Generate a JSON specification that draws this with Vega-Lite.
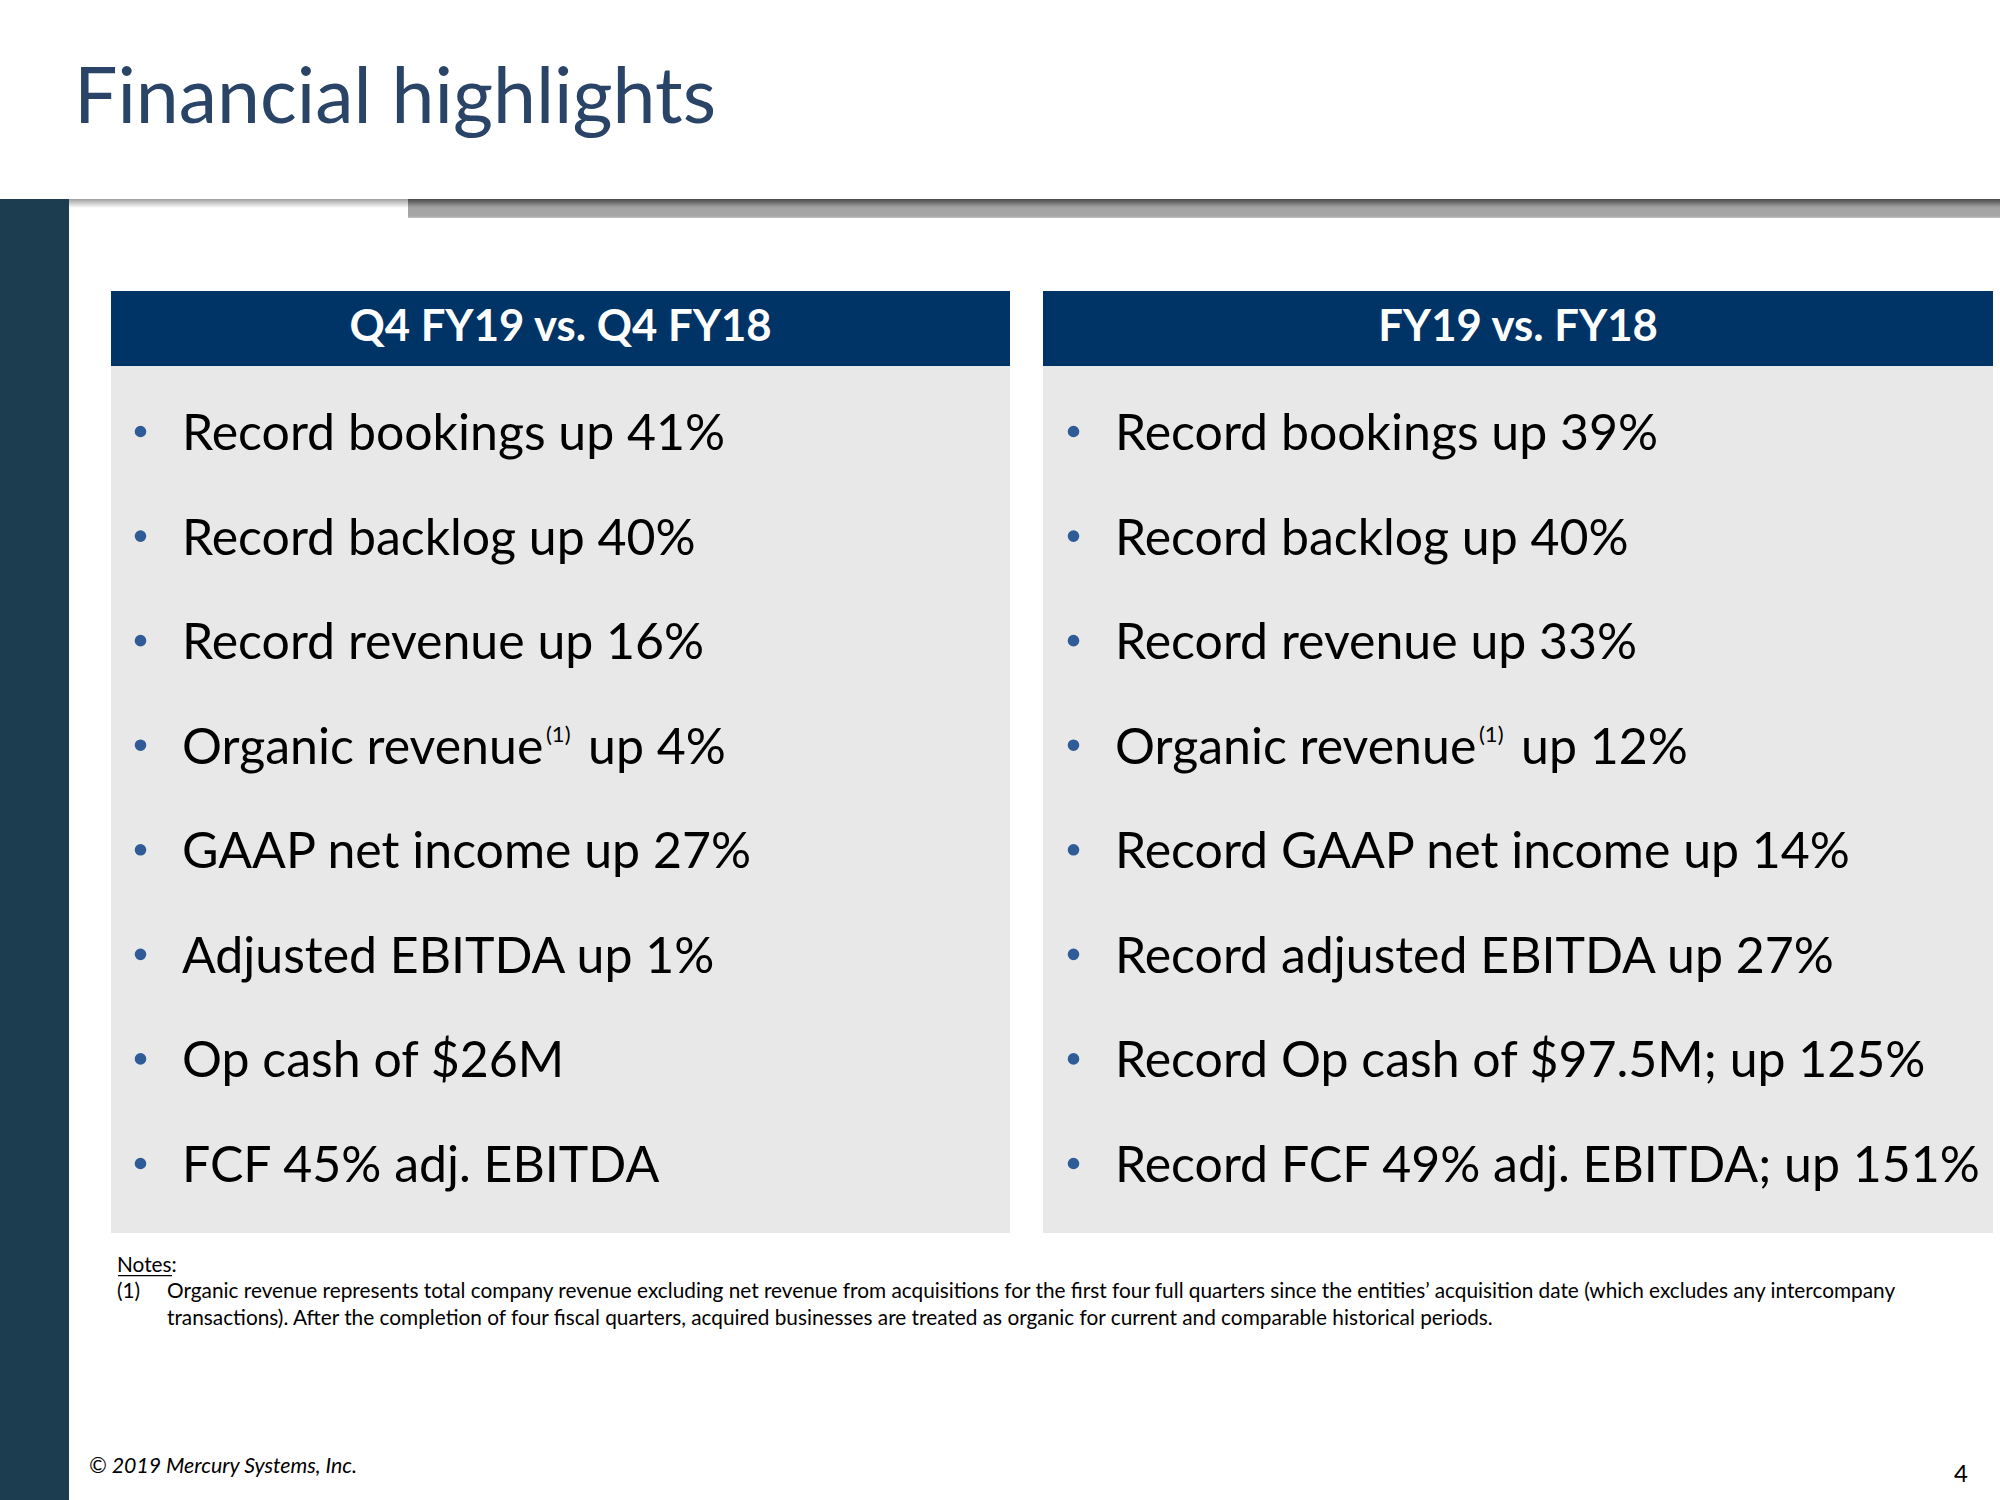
{
  "$schema": "https://vega.github.io/schema/vega-lite/v6.json",
  "width": 2000,
  "height": 1500,
  "autosize": {"type": "fit", "contains": "padding"},
  "padding": 0,
  "background": "#ffffff",
  "config": {"view": {"stroke": null}, "axis": {"disable": true}, "legend": {"disable": true}},
  "datasets": {
    "panels": [
      {"panel": "Q4 FY19 vs. Q4 FY18"},
      {"panel": "FY19 vs. FY18"}
    ],
    "bullets": [
      {"panel": "Q4 FY19 vs. Q4 FY18", "item": 1, "label": "Record bookings up 41%"},
      {"panel": "Q4 FY19 vs. Q4 FY18", "item": 2, "label": "Record backlog up 40%"},
      {"panel": "Q4 FY19 vs. Q4 FY18", "item": 3, "label": "Record revenue up 16%"},
      {"panel": "Q4 FY19 vs. Q4 FY18", "item": 4, "label": "Organic revenue", "sup": "(1)", "tail": "up 4%"},
      {"panel": "Q4 FY19 vs. Q4 FY18", "item": 5, "label": "GAAP net income up 27%"},
      {"panel": "Q4 FY19 vs. Q4 FY18", "item": 6, "label": "Adjusted EBITDA up 1%"},
      {"panel": "Q4 FY19 vs. Q4 FY18", "item": 7, "label": "Op cash of $26M"},
      {"panel": "Q4 FY19 vs. Q4 FY18", "item": 8, "label": "FCF 45% adj. EBITDA"},
      {"panel": "FY19 vs. FY18", "item": 1, "label": "Record bookings up 39%"},
      {"panel": "FY19 vs. FY18", "item": 2, "label": "Record backlog up 40%"},
      {"panel": "FY19 vs. FY18", "item": 3, "label": "Record revenue up 33%"},
      {"panel": "FY19 vs. FY18", "item": 4, "label": "Organic revenue", "sup": "(1)", "tail": "up 12%"},
      {"panel": "FY19 vs. FY18", "item": 5, "label": "Record GAAP net income up 14%"},
      {"panel": "FY19 vs. FY18", "item": 6, "label": "Record adjusted EBITDA up 27%"},
      {"panel": "FY19 vs. FY18", "item": 7, "label": "Record Op cash of $97.5M; up 125%"},
      {"panel": "FY19 vs. FY18", "item": 8, "label": "Record FCF 49% adj. EBITDA; up 151%"}
    ]
  },
  "resolve": {"scale": {"x": "independent", "y": "independent"}},
  "layer": [
    {
      "layer": [
        {
          "data": {"values": [{"element": "header band"}]},
          "mark": {"type": "rect", "color": "#ffffff"},
          "encoding": {
            "x": {"datum": 0, "type": "quantitative", "scale": {"domain": [0, 10], "nice": false, "zero": false}},
            "x2": {"datum": 10},
            "y": {"datum": 0, "type": "quantitative", "scale": {"domain": [0, 7.5], "reverse": true, "nice": false, "zero": false}},
            "y2": {"datum": 0.995}
          }
        },
        {
          "data": {"values": [{"element": "grey rule bar"}]},
          "mark": {"type": "rect", "color": {"gradient": "linear", "x1": 0, "y1": 0, "x2": 0, "y2": 1, "stops": [{"offset": 0, "color": "#7a7a7a"}, {"offset": 0.35, "color": "#a3a3a3"}, {"offset": 0.9, "color": "#a6a6a6"}, {"offset": 1, "color": "#c4c4c4"}]}},
          "encoding": {
            "x": {"datum": 2.04, "type": "quantitative", "scale": {"domain": [0, 10], "nice": false, "zero": false}},
            "x2": {"datum": 10},
            "y": {"datum": 0.995, "type": "quantitative", "scale": {"domain": [0, 7.5], "reverse": true, "nice": false, "zero": false}},
            "y2": {"datum": 1.09}
          }
        },
        {
          "data": {"values": [{"element": "title shadow"}]},
          "mark": {"type": "rect", "color": {"gradient": "linear", "x1": 0, "y1": 0, "x2": 0, "y2": 1, "stops": [{"offset": 0, "color": "rgba(0,0,0,0.38)"}, {"offset": 1, "color": "rgba(0,0,0,0)"}]}},
          "encoding": {
            "x": {"datum": 0, "type": "quantitative", "scale": {"domain": [0, 10], "nice": false, "zero": false}},
            "x2": {"datum": 10},
            "y": {"datum": 0.995, "type": "quantitative", "scale": {"domain": [0, 7.5], "reverse": true, "nice": false, "zero": false}},
            "y2": {"datum": 1.04}
          }
        },
        {
          "data": {"values": [{"element": "sidebar"}]},
          "mark": {"type": "rect", "color": "#1b3d4f"},
          "encoding": {
            "x": {"datum": 0, "type": "quantitative", "scale": {"domain": [0, 10], "nice": false, "zero": false}},
            "x2": {"datum": 0.345},
            "y": {"datum": 0.995, "type": "quantitative", "scale": {"domain": [0, 7.5], "reverse": true, "nice": false, "zero": false}},
            "y2": {"datum": 7.5}
          }
        },
        {
          "data": {"values": [{"element": "left panel body"}]},
          "mark": {"type": "rect", "color": "#e8e8e8"},
          "encoding": {
            "x": {"datum": 0.555, "type": "quantitative", "scale": {"domain": [0, 10], "nice": false, "zero": false}},
            "x2": {"datum": 5.05},
            "y": {"datum": 1.83, "type": "quantitative", "scale": {"domain": [0, 7.5], "reverse": true, "nice": false, "zero": false}},
            "y2": {"datum": 6.165}
          }
        },
        {
          "data": {"values": [{"element": "right panel body"}]},
          "mark": {"type": "rect", "color": "#e8e8e8"},
          "encoding": {
            "x": {"datum": 5.215, "type": "quantitative", "scale": {"domain": [0, 10], "nice": false, "zero": false}},
            "x2": {"datum": 9.965},
            "y": {"datum": 1.83, "type": "quantitative", "scale": {"domain": [0, 7.5], "reverse": true, "nice": false, "zero": false}},
            "y2": {"datum": 6.165}
          }
        },
        {
          "data": {"values": [{"element": "left panel header"}]},
          "mark": {"type": "rect", "color": "#003366"},
          "encoding": {
            "x": {"datum": 0.555, "type": "quantitative", "scale": {"domain": [0, 10], "nice": false, "zero": false}},
            "x2": {"datum": 5.05},
            "y": {"datum": 1.455, "type": "quantitative", "scale": {"domain": [0, 7.5], "reverse": true, "nice": false, "zero": false}},
            "y2": {"datum": 1.83}
          }
        },
        {
          "data": {"values": [{"element": "right panel header"}]},
          "mark": {"type": "rect", "color": "#003366"},
          "encoding": {
            "x": {"datum": 5.215, "type": "quantitative", "scale": {"domain": [0, 10], "nice": false, "zero": false}},
            "x2": {"datum": 9.965},
            "y": {"datum": 1.455, "type": "quantitative", "scale": {"domain": [0, 7.5], "reverse": true, "nice": false, "zero": false}},
            "y2": {"datum": 1.83}
          }
        },
        {
          "data": {"values": [{"title": "Financial highlights"}]},
          "mark": {"type": "text", "align": "left", "baseline": "alphabetic", "font": "Lato", "fontSize": 77, "color": "#2a4468"},
          "encoding": {
            "text": {"field": "title"},
            "x": {"datum": 0.37, "type": "quantitative", "scale": {"domain": [0, 10], "nice": false, "zero": false}},
            "y": {"datum": 0.615, "type": "quantitative", "scale": {"domain": [0, 7.5], "reverse": true, "nice": false, "zero": false}}
          }
        },
        {
          "data": {"values": [{"note": "Notes:"}]},
          "mark": {"type": "text", "align": "left", "baseline": "alphabetic", "font": "Lato", "fontSize": 20.8, "color": "#000000"},
          "encoding": {
            "text": {"field": "note"},
            "x": {"datum": 0.585, "type": "quantitative", "scale": {"domain": [0, 10], "nice": false, "zero": false}},
            "y": {"datum": 6.36, "type": "quantitative", "scale": {"domain": [0, 7.5], "reverse": true, "nice": false, "zero": false}}
          }
        },
        {
          "data": {"values": [{"element": "notes underline"}]},
          "mark": {"type": "rule", "color": "#000000", "strokeWidth": 1.2},
          "encoding": {
            "x": {"datum": 0.59, "type": "quantitative", "scale": {"domain": [0, 10], "nice": false, "zero": false}},
            "x2": {"datum": 0.86},
            "y": {"datum": 6.378, "type": "quantitative", "scale": {"domain": [0, 7.5], "reverse": true, "nice": false, "zero": false}}
          }
        },
        {
          "data": {"values": [{"note": "(1)"}]},
          "mark": {"type": "text", "align": "left", "baseline": "alphabetic", "font": "Lato", "fontSize": 20.8, "color": "#000000"},
          "encoding": {
            "text": {"field": "note"},
            "x": {"datum": 0.585, "type": "quantitative", "scale": {"domain": [0, 10], "nice": false, "zero": false}},
            "y": {"datum": 6.49, "type": "quantitative", "scale": {"domain": [0, 7.5], "reverse": true, "nice": false, "zero": false}}
          }
        },
        {
          "data": {"values": [{"note": "Organic revenue represents total company revenue excluding net revenue from acquisitions for the first four full quarters since the entities’ acquisition date (which excludes any intercompany"}]},
          "mark": {"type": "text", "align": "left", "baseline": "alphabetic", "font": "Lato", "fontSize": 20.8, "color": "#000000"},
          "encoding": {
            "text": {"field": "note"},
            "x": {"datum": 0.835, "type": "quantitative", "scale": {"domain": [0, 10], "nice": false, "zero": false}},
            "y": {"datum": 6.49, "type": "quantitative", "scale": {"domain": [0, 7.5], "reverse": true, "nice": false, "zero": false}}
          }
        },
        {
          "data": {"values": [{"note": "transactions). After the completion of four fiscal quarters, acquired businesses are treated as organic for current and comparable historical periods."}]},
          "mark": {"type": "text", "align": "left", "baseline": "alphabetic", "font": "Lato", "fontSize": 20.8, "color": "#000000"},
          "encoding": {
            "text": {"field": "note"},
            "x": {"datum": 0.835, "type": "quantitative", "scale": {"domain": [0, 10], "nice": false, "zero": false}},
            "y": {"datum": 6.625, "type": "quantitative", "scale": {"domain": [0, 7.5], "reverse": true, "nice": false, "zero": false}}
          }
        },
        {
          "data": {"values": [{"footer": "© 2019 Mercury Systems, Inc."}]},
          "mark": {"type": "text", "align": "left", "baseline": "alphabetic", "font": "Lato", "fontStyle": "italic", "fontSize": 21.3, "color": "#000000"},
          "encoding": {
            "text": {"field": "footer"},
            "x": {"datum": 0.445, "type": "quantitative", "scale": {"domain": [0, 10], "nice": false, "zero": false}},
            "y": {"datum": 7.365, "type": "quantitative", "scale": {"domain": [0, 7.5], "reverse": true, "nice": false, "zero": false}}
          }
        },
        {
          "data": {"values": [{"page": "4"}]},
          "mark": {"type": "text", "align": "right", "baseline": "alphabetic", "font": "Lato", "fontSize": 24, "color": "#000000"},
          "encoding": {
            "text": {"field": "page"},
            "x": {"datum": 9.84, "type": "quantitative", "scale": {"domain": [0, 10], "nice": false, "zero": false}},
            "y": {"datum": 7.41, "type": "quantitative", "scale": {"domain": [0, 7.5], "reverse": true, "nice": false, "zero": false}}
          }
        }
      ]
    },
    {
      "data": {"name": "panels"},
      "mark": {"type": "text", "align": "center", "baseline": "alphabetic", "font": "Lato", "fontWeight": "bold", "fontSize": 43.7, "color": "#ffffff"},
      "encoding": {
        "text": {"field": "panel"},
        "x": {"field": "panel", "type": "nominal", "sort": null, "scale": {"type": "point", "domain": ["Q4 FY19 vs. Q4 FY18", "FY19 vs. FY18"], "range": [560.5, 1518], "padding": 0}},
        "y": {"datum": 1.705, "type": "quantitative", "scale": {"domain": [0, 7.5], "reverse": true, "nice": false, "zero": false}}
      }
    },
    {
      "data": {"name": "bullets"},
      "encoding": {
        "x": {"field": "panel", "type": "nominal", "sort": null, "scale": {"type": "point", "domain": ["Q4 FY19 vs. Q4 FY18", "FY19 vs. FY18"], "range": [182, 1115], "padding": 0}},
        "y": {"field": "item", "type": "quantitative", "scale": {"domain": [1, 8], "range": [450, 1182], "nice": false, "zero": false}}
      },
      "layer": [
        {
          "mark": {"type": "point", "shape": "circle", "filled": true, "opacity": 1, "size": 135, "color": "#2f5c97", "xOffset": -41.5, "yOffset": -18.5}
        },
        {
          "mark": {"type": "text", "align": "left", "baseline": "alphabetic", "font": "Lato", "fontSize": 50, "color": "#000000"},
          "encoding": {"text": {"field": "label"}}
        },
        {
          "transform": [{"filter": "datum.sup != null"}],
          "mark": {"type": "text", "align": "left", "baseline": "alphabetic", "font": "Lato", "fontSize": 22, "color": "#000000", "dx": 364, "dy": -22},
          "encoding": {"text": {"field": "sup"}}
        },
        {
          "transform": [{"filter": "datum.tail != null"}],
          "mark": {"type": "text", "align": "left", "baseline": "alphabetic", "font": "Lato", "fontSize": 50, "color": "#000000", "dx": 406},
          "encoding": {"text": {"field": "tail"}}
        }
      ]
    }
  ]
}
